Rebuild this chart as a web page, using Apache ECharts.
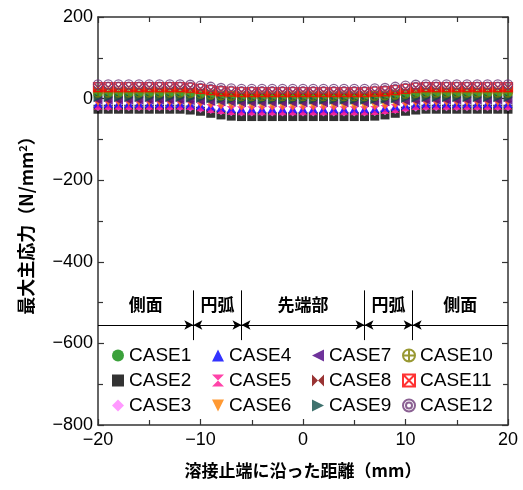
<!DOCTYPE html>
<html>
<head>
<meta charset="utf-8">
<script src="https://cdn.jsdelivr.net/npm/echarts@6/dist/echarts.min.js"></script>
<style>
  html, body { margin: 0; padding: 0; background: #fff; }
  #chart { width: 523px; height: 490px; }
</style>
</head>
<body>
<div id="chart"></div>
<script>
  // 溶接止端に沿った距離 (mm)
  var xs = [-20, -19, -18, -17, -16, -15, -14, -13, -12, -11, -10, -9, -8, -7, -6, -5, -4, -3, -2, -1, 0,
    1, 2, 3, 4, 5, 6, 7, 8, 9, 10, 11, 12, 13, 14, 15, 16, 17, 18, 19, 20]

  // 最大主応力 (N/mm2)
  var case1 = [8, 8, 8, 8, 8, 8, 8, 8, 8, 7, 6, 4, 3, 2, 1, 1, 1, 1, 1, 1, 1, 1, 1, 1, 1, 1, 1, 2, 3, 4, 6, 7, 8, 8, 8, 8, 8, 8, 8, 8, 8]
  var case2 = [-26, -26, -26, -26, -26, -26, -26, -26, -26, -28, -31, -36, -40, -43, -44, -44, -44, -44, -44, -44, -44, -44, -44, -44, -44, -44, -44, -43, -40, -36, -31, -28, -26, -26, -26, -26, -26, -26, -26, -26, -26]
  var case3 = [-20, -20, -20, -20, -20, -20, -20, -20, -20, -21, -24, -27, -30, -32, -33, -33, -33, -33, -33, -33, -33, -33, -33, -33, -33, -33, -33, -32, -30, -27, -24, -21, -20, -20, -20, -20, -20, -20, -20, -20, -20]
  var case4 = [-12, -12, -12, -12, -12, -12, -12, -12, -12, -13, -16, -19, -22, -24, -25, -25, -25, -25, -25, -25, -25, -25, -25, -25, -25, -25, -25, -24, -22, -19, -16, -13, -12, -12, -12, -12, -12, -12, -12, -12, -12]
  var case5 = [-16, -16, -16, -16, -16, -16, -16, -16, -16, -17, -20, -24, -27, -29, -30, -30, -30, -30, -30, -30, -30, -30, -30, -30, -30, -30, -30, -29, -27, -24, -20, -17, -16, -16, -16, -16, -16, -16, -16, -16, -16]
  var case6 = [-8, -8, -8, -8, -8, -8, -8, -8, -8, -9, -11, -13, -16, -17, -18, -18, -18, -18, -18, -18, -18, -18, -18, -18, -18, -18, -18, -17, -16, -13, -11, -9, -8, -8, -8, -8, -8, -8, -8, -8, -8]
  var case7 = [-4, -4, -4, -4, -4, -4, -4, -4, -4, -5, -6, -7, -8, -9, -10, -10, -10, -10, -10, -10, -10, -10, -10, -10, -10, -10, -10, -9, -8, -7, -6, -5, -4, -4, -4, -4, -4, -4, -4, -4, -4]
  var case8 = [22, 22, 22, 22, 22, 22, 22, 22, 22, 21, 19, 16, 14, 13, 12, 12, 12, 12, 12, 12, 12, 12, 12, 12, 12, 12, 12, 13, 14, 16, 19, 21, 22, 22, 22, 22, 22, 22, 22, 22, 22]
  var case9 = [2, 2, 2, 2, 2, 2, 2, 2, 2, 1, 0, -1, -2, -3, -4, -4, -4, -4, -4, -4, -4, -4, -4, -4, -4, -4, -4, -3, -2, -1, 0, 1, 2, 2, 2, 2, 2, 2, 2, 2, 2]
  var case10 = [15, 15, 15, 15, 15, 15, 15, 15, 15, 14, 12, 10, 8, 7, 6, 6, 6, 6, 6, 6, 6, 6, 6, 6, 6, 6, 6, 7, 8, 10, 12, 14, 15, 15, 15, 15, 15, 15, 15, 15, 15]
  var case11 = [28, 28, 28, 28, 28, 28, 28, 28, 28, 27, 24, 21, 18, 17, 16, 16, 16, 16, 16, 16, 16, 16, 16, 16, 16, 16, 16, 17, 18, 21, 24, 27, 28, 28, 28, 28, 28, 28, 28, 28, 28]
  var case12 = [35, 35, 35, 35, 35, 35, 35, 35, 35, 34, 32, 29, 26, 25, 24, 24, 24, 24, 24, 24, 24, 24, 24, 24, 24, 24, 24, 25, 26, 29, 32, 34, 35, 35, 35, 35, 35, 35, 35, 35, 35]

  var caseNames = ['CASE1', 'CASE2', 'CASE3', 'CASE4', 'CASE5', 'CASE6', 'CASE7', 'CASE8', 'CASE9', 'CASE10', 'CASE11', 'CASE12']
  var caseValues = [case1, case2, case3, case4, case5, case6, case7, case8, case9, case10, case11, case12]

  // 区間の境界と名前
  var sectionEdges = [-20, -10.7, -6, 6, 10.7, 20]
  var sectionNames = ['側面', '円弧', '先端部', '円弧', '側面']
  var arrowLevel = -555
  var labelLevel = -505
  var dividerTop = -470
  var dividerBottom = -592

  var xTicks = [-20, -10, 0, 10, 20]
  var yTicks = [-800, -600, -400, -200, 0, 200]

  var myColor = ['#0a8a0a', '#000000', '#ff80ff', '#0000ff', '#ff1493', '#ff8000', '#4b0082', '#800000', '#0f4f4a', '#808000', '#ff0000', '#6e3a78']
  var circlePath = 'M10,5 A5,5 0 1,1 0,5 A5,5 0 1,1 10,5 Z'
  var mySymbol = [
    'circle',
    'rect',
    'diamond',
    'triangle',
    'path://M0,0 L10,0 L5,5 L10,10 L0,10 L5,5 Z',
    'path://M0,0 L10,0 L5,10 Z',
    'path://M10,0 L10,10 L0,5 Z',
    'path://M0,0 L5,5 L0,10 Z M10,0 L10,10 L5,5 Z',
    'path://M0,0 L10,5 L0,10 Z',
    'path://' + circlePath + ' M5,0 L5,10 M0,5 L10,5',
    'path://M0,0 L10,0 L10,10 L0,10 Z M0,0 L10,10 M10,0 L0,10',
    'path://' + circlePath + ' M7.5,5 A2.5,2.5 0 1,1 2.5,5 A2.5,2.5 0 1,1 7.5,5 Z'
  ]
  var hollow = [false, false, false, false, false, false, false, false, false, true, true, true]

  var font = 'Liberation Sans, Arial, sans-serif'
  var cjk = 'Noto Sans CJK JP, sans-serif'
  function minus (v) {
    return String(v).replace('-', '\u2212')
  }

  var series = caseNames.map(function (name, k) {
    var style = hollow[k]
      ? { color: 'rgba(0,0,0,0)', borderColor: myColor[k], borderWidth: 1.3 }
      : { color: myColor[k] }
    return {
      name: name,
      type: 'scatter',
      symbol: mySymbol[k],
      symbolSize: 9,
      itemStyle: style,
      data: xs.map(function (x, i) { return [x, caseValues[k][i]] }),
      z: 2 + k
    }
  })

  // 区間の矢印線・仕切り線・名前
  var markLines = []
  for (var i = 1; i < sectionEdges.length - 1; i++) {
    markLines.push([{ coord: [sectionEdges[i], dividerTop], symbol: 'none' }, { coord: [sectionEdges[i], dividerBottom], symbol: 'none' }])
  }
  for (var j = 0; j < sectionEdges.length - 1; j++) {
    markLines.push([
      { coord: [sectionEdges[j], arrowLevel], symbol: j === 0 ? 'none' : 'arrow' },
      { coord: [sectionEdges[j + 1], arrowLevel], symbol: j === sectionEdges.length - 2 ? 'none' : 'arrow' }
    ])
  }
  var markPoints = sectionNames.map(function (n, k) {
    return { name: n, coord: [(sectionEdges[k] + sectionEdges[k + 1]) / 2, labelLevel] }
  })
  series.push({
    name: 'section',
    type: 'line',
    data: [],
    silent: true,
    markLine: {
      silent: true,
      symbolSize: [7, 9],
      label: { show: false },
      lineStyle: { color: '#000', width: 1, type: 'solid' },
      data: markLines
    },
    markPoint: {
      silent: true,
      symbol: 'circle',
      symbolSize: 0,
      label: {
        show: true,
        position: 'inside',
        formatter: '{b}',
        color: '#000',
        fontFamily: cjk,
        fontWeight: 'bold',
        fontSize: 17
      },
      data: markPoints
    }
  })

  var legendCols = [[0, 1, 2], [3, 4, 5], [6, 7, 8], [9, 10, 11]]
  var legendLeft = [107, 207, 307, 397]
  var legends = legendCols.map(function (col, c) {
    return {
      orient: 'vertical',
      left: legendLeft[c],
      top: 341,
      itemWidth: 12,
      itemHeight: 12,
      itemGap: 6,
      selectedMode: false,
      textStyle: { fontFamily: font, fontSize: 19, color: '#000' },
      data: col.map(function (k) { return caseNames[k] })
    }
  })

  var tickStyle = { show: true, inside: true, length: 6, lineStyle: { color: '#333', width: 1.2 } }
  var minorStyle = { show: true, splitNumber: 2, length: 5, lineStyle: { color: '#333', width: 1.2 } }
  var lineStyle = { show: true, onZero: false, lineStyle: { color: '#333', width: 1.5 } }

  var myChart = echarts.init(document.getElementById('chart'))
  myChart.setOption({
    animation: false,
    grid: { left: 98, right: 15, top: 17, bottom: 65 },
    legend: legends,
    xAxis: [{
      type: 'value',
      min: xTicks[0],
      max: xTicks[xTicks.length - 1],
      interval: 10,
      name: '溶接止端に沿った距離（mm）',
      nameLocation: 'middle',
      nameGap: 37,
      nameTextStyle: { fontFamily: cjk, fontSize: 17, fontWeight: 'bold', color: '#000' },
      axisLine: lineStyle,
      axisTick: tickStyle,
      minorTick: minorStyle,
      splitLine: { show: false },
      axisLabel: { fontFamily: font, fontSize: 18, color: '#000', margin: 6, formatter: minus }
    }, {
      type: 'value',
      position: 'top',
      min: xTicks[0],
      max: xTicks[xTicks.length - 1],
      interval: 10,
      axisLine: lineStyle,
      axisTick: tickStyle,
      minorTick: minorStyle,
      splitLine: { show: false },
      axisLabel: { show: false }
    }],
    yAxis: [{
      type: 'value',
      min: yTicks[0],
      max: yTicks[yTicks.length - 1],
      interval: 200,
      name: '最大主応力（N/mm{sup|2}）',
      nameLocation: 'middle',
      nameGap: 62,
      nameTextStyle: {
        fontFamily: cjk, fontSize: 18, fontWeight: 'bold', color: '#000',
        rich: { sup: { fontFamily: cjk, fontSize: 11, fontWeight: 'bold', verticalAlign: 'top', padding: [0, 0, 8, 0] } }
      },
      axisLine: lineStyle,
      axisTick: tickStyle,
      minorTick: minorStyle,
      splitLine: { show: false },
      axisLabel: { fontFamily: font, fontSize: 18, color: '#000', margin: 5, formatter: minus }
    }, {
      type: 'value',
      position: 'right',
      min: yTicks[0],
      max: yTicks[yTicks.length - 1],
      interval: 200,
      axisLine: lineStyle,
      axisTick: tickStyle,
      minorTick: minorStyle,
      splitLine: { show: false },
      axisLabel: { show: false }
    }],
    series: series
  })
</script>
</body>
</html>
